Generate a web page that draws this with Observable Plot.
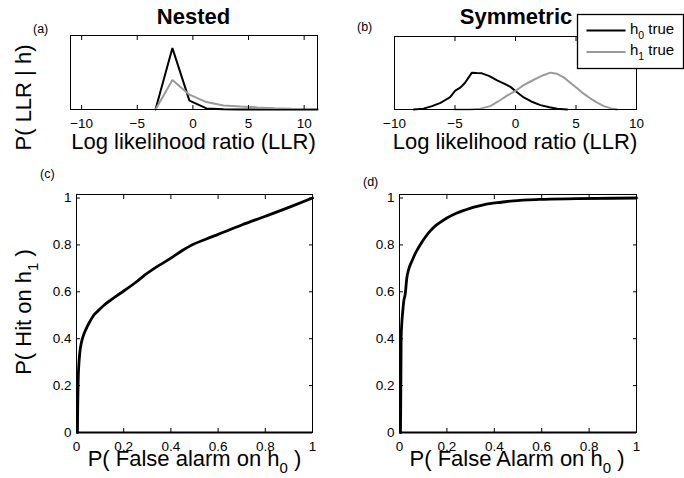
<!DOCTYPE html>
<html><head><meta charset="utf-8">
<script src="https://cdn.jsdelivr.net/npm/d3@7"></script>
<script src="https://cdn.jsdelivr.net/npm/@observablehq/plot@0.6"></script>
<style>
body{margin:0;background:#fff;}
#fig{position:relative;width:684px;height:478px;overflow:hidden;background:#fff;font-family:"Liberation Sans",Arial,Helvetica,sans-serif;}
#fig > svg{position:absolute;}
#fig svg g[aria-label$="tick label"] text{font-size:13.5px !important;}
</style></head><body><div id="fig"></div>
<script>
// ---- data ----
const nestedLLR = [-3.36, -1.84, -0.31, 1.22, 2.75, 4.28, 5.81, 7.34, 8.87, 10.4, 11.2];
const nestedH0  = [0, 0.83, 0.12, 0.015, 0.003, 0, 0, 0, 0, 0, 0];
const nestedH1  = [0, 0.40, 0.20, 0.10, 0.055, 0.04, 0.028, 0.018, 0.01, 0.006, 0.004];

const symH0LLR = [-8.4, -7.6, -6.9, -6.2, -5.8, -5.4, -4.98, -4.56, -4.2, -3.6, -3.2, -2.77, -2.2, -1.52, -0.9, -0.42, 0.1, 0.68, 1.3, 2.06, 2.8, 3.44, 4.27];
const symH0P   = [0, 0.012, 0.046, 0.09, 0.13, 0.17, 0.26, 0.30, 0.36, 0.505, 0.50, 0.495, 0.46, 0.40, 0.35, 0.31, 0.24, 0.165, 0.11, 0.06, 0.03, 0.01, 0];
const symH1LLR = [-5, -3.73, -2.9, -2.08, -1.25, -0.7, -0.15, 0.3, 0.68, 1.2, 1.78, 2.3, 2.89, 3.4, 3.99, 4.5, 5.1, 5.6, 6.2, 6.8, 7.3, 7.9, 8.4];
const symH1P   = [0, 0, 0.012, 0.046, 0.13, 0.19, 0.24, 0.29, 0.335, 0.38, 0.43, 0.47, 0.505, 0.49, 0.44, 0.37, 0.29, 0.22, 0.15, 0.09, 0.046, 0.015, 0];

const rocNestedFA  = [0.004,0.005,0.007,0.01,0.014,0.02,0.028,0.04,0.055,0.073,0.095,0.119,0.145,0.17,0.21,0.257,0.29,0.33,0.41,0.45,0.484,0.55,0.6,0.7,0.8,0.9,1];
const rocNestedHit = [0,0.1,0.22,0.29,0.34,0.38,0.41,0.44,0.47,0.5,0.522,0.545,0.565,0.583,0.61,0.645,0.672,0.70,0.75,0.777,0.797,0.825,0.845,0.885,0.922,0.96,1];
const rocSymFA  = [0.004,0.005,0.006,0.007,0.01,0.014,0.018,0.024,0.031,0.04,0.052,0.07,0.087,0.11,0.13,0.15,0.17,0.2,0.24,0.28,0.31,0.35,0.38,0.43,0.48,0.59,0.75,0.9,1];
const rocSymHit = [0,0.1,0.25,0.406,0.47,0.52,0.56,0.59,0.66,0.70,0.73,0.77,0.80,0.835,0.86,0.88,0.895,0.915,0.935,0.95,0.96,0.97,0.976,0.982,0.988,0.994,0.997,0.999,1];

const llrTicks = [-10, -5, 0, 5, 10];
const llrTickLabels = ["\u221210", "\u22125", "0", "5", "10"];
const probTicks = [0, 0.2, 0.4, 0.6, 0.8, 1];
const probTickLabels = ["0", "0.2", "0.4", "0.6", "0.8", "1"];

const seriesNames = ["h0 true", "h1 true"];
const seriesColors = ["#000000", "#9a9a9a"];

// ---- tables ----
const nestedTable = nestedLLR.flatMap((x, i) => [
  {x, p: nestedH0[i], s: seriesNames[0]}, {x, p: nestedH1[i], s: seriesNames[1]}]);
const symTable = [
  ...symH0LLR.map((x, i) => ({x, p: symH0P[i], s: seriesNames[0]})),
  ...symH1LLR.map((x, i) => ({x, p: symH1P[i], s: seriesNames[1]}))];
const rocNested = rocNestedFA.map((x, i) => ({x, y: rocNestedHit[i]}));
const rocSym = rocSymFA.map((x, i) => ({x, y: rocSymHit[i]}));

const fig = d3.select("#fig");
const FONT = '"Liberation Sans",Arial,Helvetica,sans-serif';

function panel({left, top, width, height, ml, mr, mt, mb, xDomain, yDomain, xTicks, xLabels, yTicks, yLabels, marks}) {
  const fmt = (ticks, labels) => d => labels[ticks.findIndex(t => Math.abs(t - d) < 1e-9)];
  const all = [...marks, Plot.frame({stroke: "black", strokeWidth: 1})];
  all.push(Plot.axisX({anchor: "bottom", ticks: xTicks, tickFormat: fmt(xTicks, xLabels), tickSize: 4, insetBottom: 4, tickPadding: 9, label: null, fontSize: 13.5}));
  all.push(Plot.axisX({anchor: "top", ticks: xTicks, tickFormat: () => "", tickSize: 4, insetTop: 4, label: null}));
  if (yTicks) {
    all.push(Plot.axisY({anchor: "left", ticks: yTicks, tickFormat: fmt(yTicks, yLabels), tickSize: 4, insetLeft: 4, tickPadding: 5, label: null, fontSize: 13.5}));
    all.push(Plot.axisY({anchor: "right", ticks: yTicks, tickFormat: () => "", tickSize: 4, insetRight: 4, label: null}));
  } else {
    all.push(Plot.axisY({ticks: [], label: null}));
  }
  const svg = Plot.plot({
    width, height, marginLeft: ml, marginRight: mr, marginTop: mt, marginBottom: mb,
    x: {domain: xDomain}, y: {domain: yDomain},
    color: {domain: seriesNames, range: seriesColors},
    style: {fontFamily: FONT, fontSize: "13.5px", color: "black", background: "transparent", overflow: "visible"},
    marks: all
  });
  d3.select(svg).style("left", left + "px").style("top", top + "px").style("position", "absolute");
  d3.select(svg).selectAll("text").attr("font-size", 13.5).style("font-size", "13.5px").style("font-family", FONT);
  fig.node().appendChild(svg);
}

const histLine = (data) => Plot.line(data, {x: "x", y: "p", z: "s", stroke: "s", strokeWidth: 2, strokeLinejoin: "miter"});

panel({left: 0, top: 0, width: 342, height: 160, ml: 70, mr: 25, mt: 35, mb: 51,
  xDomain: [-11, 11.2], yDomain: [0, 1], xTicks: llrTicks, xLabels: llrTickLabels,
  marks: [histLine(nestedTable)]});
panel({left: 342, top: 0, width: 342, height: 160, ml: 52, mr: 48, mt: 36, mb: 51,
  xDomain: [-10, 10], yDomain: [0, 1], xTicks: llrTicks, xLabels: llrTickLabels,
  marks: [histLine(symTable)]});
panel({left: 0, top: 160, width: 342, height: 318, ml: 76, mr: 30, mt: 34, mb: 46,
  xDomain: [0, 1], yDomain: [0, 1.015], xTicks: probTicks, xLabels: probTickLabels, yTicks: probTicks, yLabels: probTickLabels,
  marks: [Plot.ruleY([0], {strokeWidth: 2}), Plot.line(rocNested, {x: "x", y: "y", stroke: "black", strokeWidth: 2.8, curve: "monotone-x"})]});
panel({left: 342, top: 160, width: 342, height: 318, ml: 57, mr: 48, mt: 34, mb: 46,
  xDomain: [0, 1], yDomain: [0, 1.015], xTicks: probTicks, xLabels: probTickLabels, yTicks: probTicks, yLabels: probTickLabels,
  marks: [Plot.ruleY([0], {strokeWidth: 2}), Plot.line(rocSym, {x: "x", y: "y", stroke: "black", strokeWidth: 2.8, curve: "monotone-x"})]});

// ---- overlay text ----
const ov = fig.append("svg").attr("width", 684).attr("height", 478)
  .style("left", "0px").style("top", "0px").style("font-family", FONT);

function label(x, y, parts, {size = 22, weight = "normal", anchor = "middle", rotate = 0, subSize = 15, subShift = 7} = {}) {
  const t = ov.append("text").attr("transform", `translate(${x},${y}) rotate(${rotate})`)
    .attr("text-anchor", anchor).attr("font-size", size).attr("font-weight", weight).attr("fill", "black");
  let shifted = 0;
  for (const p of parts) {
    const isSub = Array.isArray(p);
    const txt = isSub ? p[0] : p;
    const dy = isSub ? subShift - shifted : -shifted;
    const ts = t.append("tspan").text(txt).attr("dy", dy);
    if (isSub) ts.attr("font-size", subSize);
    shifted = isSub ? subShift : 0;
  }
  return t;
}

label(193.5, 24, ["Nested"], {weight: "bold"});
label(516, 24, ["Symmetric"], {weight: "bold"});
label(33, 33, ["(a)"], {size: 12.5, anchor: "start"});
label(357, 31, ["(b)"], {size: 12.5, anchor: "start"});
label(40, 178, ["(c)"], {size: 12.5, anchor: "start"});
label(363, 186, ["(d)"], {size: 12.5, anchor: "start"});

label(193.5, 148.5, ["Log likelihood ratio (LLR)"]);
label(515, 148.5, ["Log likelihood ratio (LLR)"]);
label(31, 97.5, ["P( LLR | h)"], {rotate: -90});

label(194.5, 466, ["P( False alarm on h", ["0"], " )"]);
label(517, 466, ["P( False Alarm on h", ["0"], " )"]);
label(31, 312, ["P( Hit on h", ["1"], " )"], {rotate: -90});

// legend
const lg = ov.append("g");
lg.append("rect").attr("x", 577.5).attr("y", 14.5).attr("width", 106).attr("height", 54)
  .attr("fill", "white").attr("stroke", "black").attr("stroke-width", 1.3);
[30.5, 52].forEach((yy, i) => {
  lg.append("line").attr("x1", 586.5).attr("x2", 625.5).attr("y1", yy).attr("y2", yy)
    .attr("stroke", seriesColors[i]).attr("stroke-width", 2);
  label(630, yy + 3, ["h", [String(i)], " true"], {size: 15, anchor: "start", subSize: 10.5, subShift: 5});
});
</script></body></html>
